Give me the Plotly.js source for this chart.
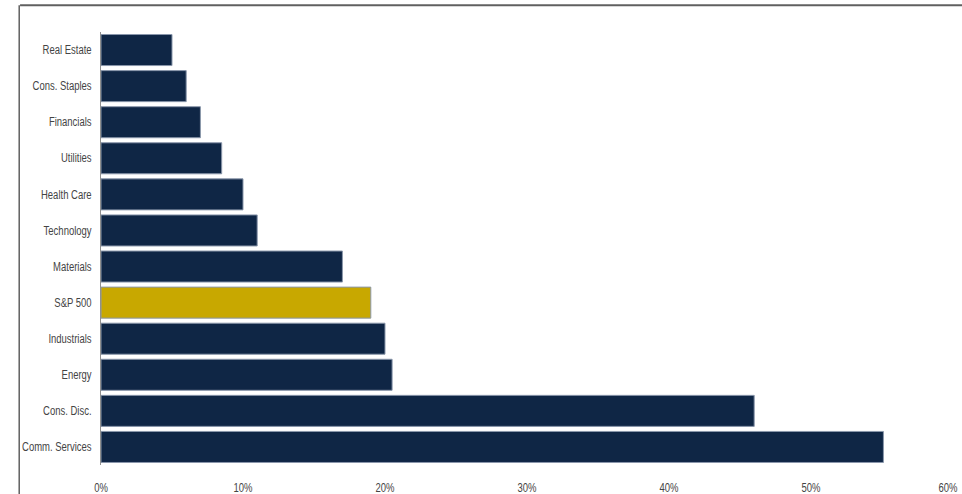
<!DOCTYPE html>
<html>
<head>
<meta charset="utf-8">
<script src="https://cdn.plot.ly/plotly-3.0.1.min.js"></script>
<style>html,body{margin:0;padding:0;background:#fff;}#chart{width:962px;height:494px;}</style>
</head>
<body>
<div id="chart"></div>
<script>
const categories = ["Real Estate","Cons. Staples","Financials","Utilities","Health Care","Technology","Materials","S&P 500","Industrials","Energy","Cons. Disc.","Comm. Services"];
const values = [5.0, 6.0, 7.0, 8.5, 10.0, 11.0, 17.0, 19.0, 20.0, 20.5, 46.0, 55.1];
const highlight = "S&P 500";
const xTickVals = [0, 10, 20, 30, 40, 50, 60];
const xTickText = ["0%","10%","20%","30%","40%","50%","60%"];

const navy = "#0f2645", gold = "#c8a800";
const colors = categories.map(c => c === highlight ? gold : navy);
const font = {family: "'Liberation Sans', Arial, sans-serif", size: 12, color: "#444444"};
const last = xTickVals.length - 1;

Plotly.newPlot("chart", [{
  type: "bar",
  orientation: "h",
  y: categories,
  x: values,
  marker: {color: colors, line: {color: "#8a97ab", width: 1}},
  hoverinfo: "skip"
}], {
  width: 962, height: 494,
  margin: {l: 101, r: 9, t: 32, b: 29},
  paper_bgcolor: "#fff", plot_bgcolor: "#fff",
  bargap: 0.14,
  showlegend: false,
  font: font,
  xaxis: {range: [0, 60], tickmode: "array", tickvals: xTickVals.slice(0, last), ticktext: xTickText.slice(0, last), showgrid: false, zeroline: false, showline: false, ticks: "", ticklabelstandoff: 14, fixedrange: true},
  yaxis: {categoryorder: "array", categoryarray: categories, autorange: "reversed", showline: true, linecolor: "#909090", linewidth: 1, showgrid: false, zeroline: false, ticks: "", ticklabelstandoff: 6, fixedrange: true},
  annotations: [
    {x: xTickVals[last], xref: "x", y: 0, yref: "paper", yanchor: "top", xanchor: "right", xshift: 9, yshift: -14, text: xTickText[last], showarrow: false, font: font}
  ],
  shapes: [
    {type: "line", xref: "paper", yref: "paper", x0: -0.095, x1: 1.02, y0: 1.062, y1: 1.062, line: {color: "#606060", width: 2}},
    {type: "line", xref: "paper", yref: "paper", x0: -0.096, x1: -0.096, y0: 1.062, y1: -0.07, line: {color: "#606060", width: 1.5}}
  ]
}, {displayModeBar: false, staticPlot: true}).then(function (gd) {
  // condensed look: squeeze tick label glyphs horizontally
  const sel = gd.querySelectorAll(".xtick text, .ytick text, .annotation-text");
  sel.forEach(function (t) {
    const w = t.getComputedTextLength();
    t.setAttribute("textLength", (w * 0.79).toFixed(1));
    t.setAttribute("lengthAdjust", "spacingAndGlyphs");
  });
});
</script>
</body>
</html>
